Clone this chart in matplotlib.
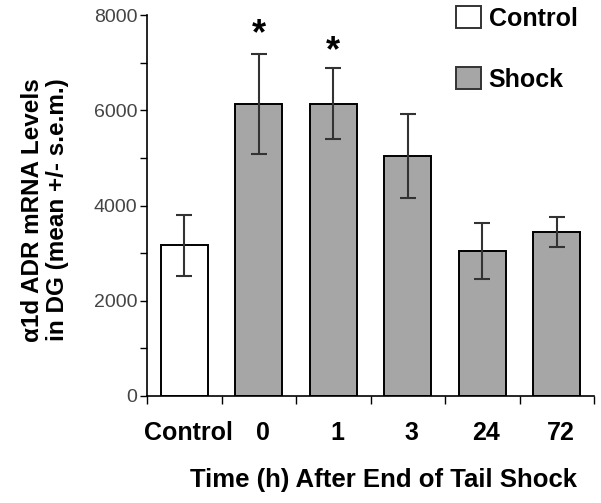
import matplotlib
matplotlib.use("Agg")
import matplotlib.pyplot as plt
from matplotlib.patches import Patch
import numpy as np

plt.rcParams['font.family'] = ['Liberation Sans', 'DejaVu Sans']

categories = ["Control", "0", "1", "3", "24", "72"]
means = [3170, 6140, 6140, 5040, 3050, 3450]
errors = [640, 1050, 740, 880, 590, 315]
groups = ["Control", "Shock", "Shock", "Shock", "Shock", "Shock"]
significant = [False, True, True, False, False, False]
star_y = [None, 7590, 7240, None, None, None]
yticks = [0, 2000, 4000, 6000, 8000]

colors = {"Control": "white", "Shock": "#a6a6a6"}

fig = plt.figure(figsize=(6.01, 5.03), dpi=100)
ax = fig.add_axes([147/601, 1-396/503, (594-147)/601, (396-15)/503])

x = np.arange(len(categories))
ax.bar(x, means, width=0.63, color=[colors[g] for g in groups],
       edgecolor="black", linewidth=1.4, zorder=2)
ax.errorbar(x, means, yerr=errors, fmt="none", ecolor="#333333",
            elinewidth=1.5, capsize=6, capthick=1.5, zorder=3)
for xi, s, sy in zip(x, significant, star_y):
    if s:
        ax.text(xi, sy, "*", ha="center", va="center", fontsize=26,
                fontweight="bold")

ax.set_xlim(-0.5, len(categories) - 0.5)
ax.set_ylim(0, 8000)
ax.spines["top"].set_visible(False)
ax.spines["right"].set_visible(False)
ax.spines["left"].set_linewidth(1.2)
ax.spines["bottom"].set_linewidth(1.2)

ax.set_yticks(yticks)
ax.set_yticklabels([str(v) for v in yticks], fontsize=14, color="#444444")
ax.set_yticks(np.arange(1000, 8000, 2000), minor=True)
ax.tick_params(axis="y", which="both", direction="out", length=5, width=1.0, pad=2)

ax.set_xticks(np.arange(-0.5, len(categories), 1.0))
ax.set_xticklabels([])
ax.tick_params(axis="x", which="major", direction="out", length=6, width=1.0)
for xi, lab in zip(x, categories):
    ax.text(xi + 0.05, -0.065, lab, transform=ax.get_xaxis_transform(),
            ha="center", va="top", fontsize=18, fontweight="bold")

fig.text(384/601, 1-480/503, "Time (h) After End of Tail Shock", ha="center",
         va="center", fontsize=18.5, fontweight="bold")
fig.text(45/601, 1-210/503, "\u03b11d ADR mRNA Levels\nin DG (mean +/- s.e.m.)",
         ha="center", va="center", rotation=90, fontsize=17.5,
         fontweight="bold", linespacing=1.15)

handles = [Patch(facecolor=colors["Control"], edgecolor="#333333", linewidth=1.4),
           Patch(facecolor=colors["Shock"], edgecolor="#333333", linewidth=1.4)]
fig.legend(handles, ["Control", "Shock"], loc="upper left",
           bbox_to_anchor=(456/601, 1-6/503), frameon=False,
           prop={"size": 18, "weight": "bold"}, handlelength=1.0,
           handleheight=1.0, handletextpad=0.3, labelspacing=1.45,
           borderpad=0, borderaxespad=0)

fig.savefig("out.png", dpi=100)
